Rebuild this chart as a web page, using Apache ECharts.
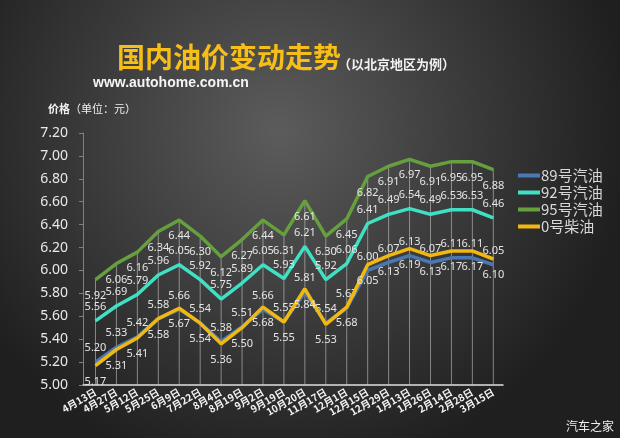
<!DOCTYPE html>
<html>
<head>
<meta charset="utf-8">
<script src="https://cdn.jsdelivr.net/npm/echarts@6/dist/echarts.min.js"></script>
<style>
html,body{margin:0;padding:0;background:#333;}
#chart{width:620px;height:438px;}
</style>
</head>
<body>
<div id="chart"></div>
<script>
const categories = ['4月13日','4月27日','5月12日','5月25日','6月9日','7月22日','8月4日','8月19日','9月2日','9月19日','10月20日','11月17日','12月1日','12月15日','12月29日','1月13日','1月26日','2月14日','2月28日','3月15日'];
const p89 = [5.20,5.33,5.42,5.58,5.66,5.54,5.38,5.51,5.66,5.55,5.81,5.54,5.67,6.00,6.07,6.13,6.07,6.11,6.11,6.05];
const p92 = [5.56,5.69,5.79,5.96,6.05,5.92,5.75,5.89,6.05,5.93,6.21,5.92,6.06,6.41,6.49,6.54,6.49,6.53,6.53,6.46];
const p95 = [5.92,6.06,6.16,6.34,6.44,6.30,6.12,6.27,6.44,6.31,6.61,6.30,6.45,6.82,6.91,6.97,6.91,6.95,6.95,6.88];
const p0  = [5.17,5.31,5.41,5.58,5.67,5.54,5.36,5.50,5.68,5.55,5.84,5.53,5.68,6.05,6.13,6.19,6.13,6.17,6.17,6.10];
const seriesNames = ['89号汽油','92号汽油','95号汽油','0号柴油'];
const yMin = 5.0, yMax = 7.2, yStep = 0.2;

const chart = echarts.init(document.getElementById('chart'));
const labelFont = {color:'#e6e6e6', fontSize:11, fontFamily:'Noto Sans, sans-serif'};
function lineSeries(name, data, color, pos, dist, z){
  return {
    name, type:'line', data, xAxisIndex:0, yAxisIndex:0, z,
    symbol:'circle', symbolSize:1, showSymbol:true,
    lineStyle:{color, width:3.5}, itemStyle:{color},
    label:Object.assign({show:true, position:pos, distance:dist, formatter:(p)=>p.value.toFixed(2)}, labelFont),
    emphasis:{disabled:true}, animation:false
  };
}
const option = {
  animation:false,
  backgroundColor:{type:'radial', x:0.45, y:0.3, r:0.8, colorStops:[{offset:0,color:'#5c5c5c'},{offset:0.55,color:'#3a3a3a'},{offset:1,color:'#1f1f1f'}]},
  graphic:[
    {type:'text', left:117, top:43, style:{text:'国内油价变动走势', fill:'#f6be17', font:'bold 28px "Noto Sans CJK SC", sans-serif'}},
    {type:'text', left:338, top:58, style:{text:'（以北京地区为例）', fill:'#f2f2f2', font:'bold 13px "Noto Sans CJK SC", sans-serif'}},
    {type:'text', left:93, top:76, style:{text:'www.autohome.com.cn', fill:'#f5f5f5', font:'bold 14px "Liberation Sans", Arial, sans-serif'}},
    {type:'text', left:48, top:103, style:{rich:{a:{fill:'#f0f0f0', font:'bold 11px "Noto Sans CJK SC", sans-serif'}, b:{fill:'#f0f0f0', font:'11px "Noto Sans CJK SC", sans-serif'}}, text:'{a|价格}{b|（单位：元）}'}},
    {type:'text', right:6, bottom:6, style:{text:'汽车之家', fill:'#f0f0f0', font:'12px "Noto Sans CJK SC", sans-serif'}}
  ],
  legend:{
    data:seriesNames, orient:'vertical', left:513, top:163, icon:'rect', itemWidth:22, itemHeight:4, itemGap:2,
    textStyle:{color:'#d8d8d8', fontSize:15, fontFamily:'"Noto Sans CJK SC", sans-serif', padding:[0,0,0,-4]},
    selectedMode:false
  },
  grid:[
    {left:95.5, right:126.7, top:133, bottom:53},
    {left:83, right:117, top:133, bottom:53}
  ],
  xAxis:[
    {gridIndex:0, type:'category', data:categories, boundaryGap:false,
     axisLine:{show:false}, axisTick:{show:false}, splitLine:{show:false},
     axisLabel:{rotate:30, interval:0, color:'#f2f2f2', fontSize:10, fontWeight:'bold', fontFamily:'"Noto Sans CJK SC", sans-serif', margin:6}},
    {gridIndex:1, type:'value', min:0, max:1, axisLine:{show:true, lineStyle:{color:'#e0e0e0', width:1.5}}, axisTick:{show:false}, axisLabel:{show:false}, splitLine:{show:false}}
  ],
  yAxis:[
    {gridIndex:0, type:'value', min:yMin, max:yMax, interval:yStep, show:false},
    {gridIndex:1, type:'value', min:yMin, max:yMax, interval:yStep,
     axisLine:{show:true, lineStyle:{color:'#808080', width:1}},
     axisTick:{show:true, length:4, lineStyle:{color:'#808080'}},
     splitLine:{show:false},
     axisLabel:{color:'#e8e8e8', fontSize:14, fontFamily:'Noto Sans, sans-serif', margin:15, formatter:(v)=>v.toFixed(2)}}
  ],
  series:[
    {type:'custom', xAxisIndex:0, yAxisIndex:0, z:1, silent:true,
     data:p95.map((v,i)=>[i,v]),
     renderItem:(params, api)=>{
       const a = api.coord([api.value(0), api.value(1)]);
       const b = api.coord([api.value(0), yMin]);
       return {type:'line', shape:{x1:a[0], y1:a[1], x2:b[0], y2:b[1]}, style:{stroke:'rgba(210,210,210,0.55)', lineWidth:1}};
     }},
    lineSeries('89号汽油', p89, '#4a78b2', 'top', 8, 3),
    lineSeries('92号汽油', p92, '#40e0c4', 'top', 8, 4),
    lineSeries('95号汽油', p95, '#66a03e', 'bottom', 10, 5),
    lineSeries('0号柴油', p0, '#f2b812', 'bottom', 10, 6)
  ]
};
chart.setOption(option);
</script>
</body>
</html>
